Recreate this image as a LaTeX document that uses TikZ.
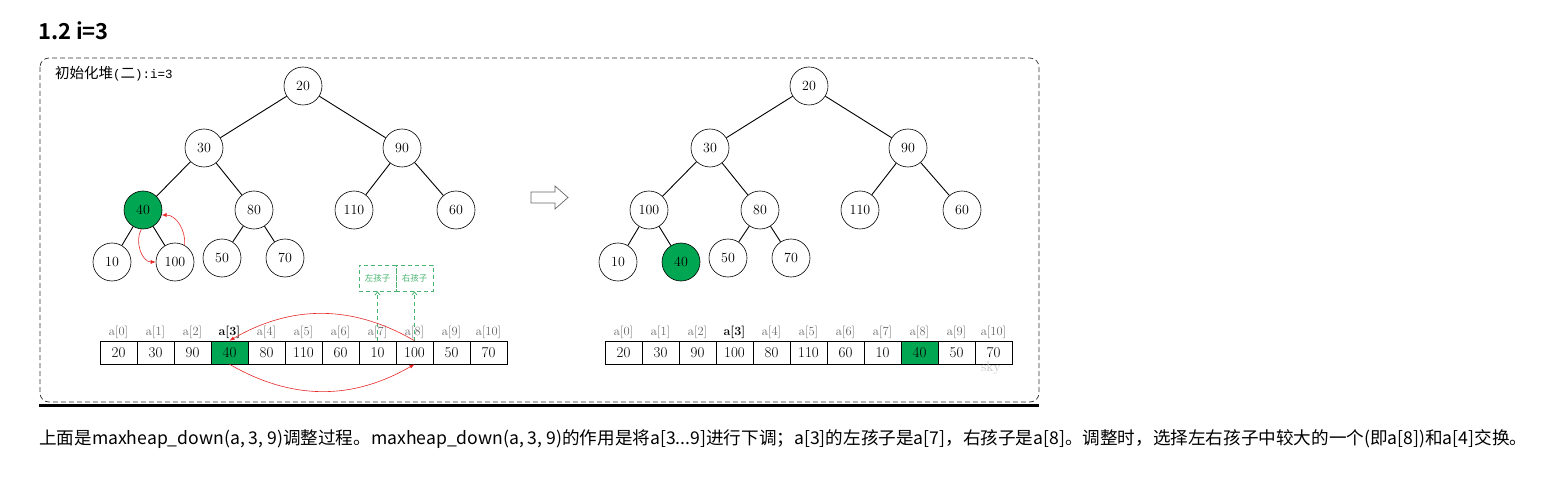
\documentclass[tikz,border=0pt]{standalone}
\usepackage{fontspec}
\newfontfamily\cjk{Noto Sans CJK SC}
\newfontfamily\cjkb{Noto Sans CJK SC Bold}
\newfontfamily\lmono{Liberation Mono}
\usetikzlibrary{arrows.meta}
\definecolor{hgreen}{RGB}{0,166,81}
\definecolor{dgreen}{RGB}{70,180,110}
\definecolor{hred}{RGB}{230,40,40}
\definecolor{boxgray}{RGB}{50,50,50}
\tikzset{
  hn/.style={circle,draw,line width=0.6pt,minimum size=38pt,inner sep=0pt,font=\fontsize{14}{14}\selectfont},
  gn/.style={hn,fill=hgreen},
  cell/.style={draw,line width=0.6pt,minimum width=37pt,minimum height=23pt,inner sep=0pt,font=\fontsize{15}{15}\selectfont},
  lab/.style={font=\fontsize{12.5}{12.5}\selectfont,text=black!60,inner sep=0pt},
  blab/.style={lab,text=black,font=\bfseries\fontsize{12.5}{12.5}\selectfont},
  tedge/.style={line width=0.9pt},
  redarr/.style={hred,line width=0.6pt,-{Latex[length=5pt,width=4pt]}},
  grarr/.style={dgreen,line width=0.8pt,dash pattern=on 4pt off 3pt,-{Straight Barb[length=3pt,width=5pt]}},
  gbox/.style={draw=dgreen,line width=0.8pt,dash pattern=on 4pt off 3pt,minimum width=37pt,minimum height=26pt,inner sep=0pt,font=\cjk\fontsize{8.5}{8.5}\selectfont,text=dgreen},
}
\begin{document}
\begin{tikzpicture}[x=1pt,y=-1pt]
\useasboundingbox (0,0) rectangle (1543,481);
% title
\node[anchor=west,inner sep=0pt,font=\cjkb\fontsize{22}{22}\selectfont] (title) at (38,31) {1.2 i=3};
% outer frame
\draw[boxgray,line width=0.7pt,dash pattern=on 5pt off 3pt,rounded corners=9pt] (40,58) rectangle (1039,402);
\draw[line width=3.5pt] (39,405.5) -- (1039,405.5);
\node[anchor=west,inner sep=0pt,font=\cjk\fontsize{14.5}{14.5}\selectfont] (cap) at (55,74) {初始化堆{\lmono\fontsize{12.5}{12.5}\selectfont(}二{\lmono\fontsize{12.5}{12.5}\selectfont):i=3}};

% left tree
\node[hn] (a20) at (303,86) {20};
\node[hn] (a30) at (204,148) {30};
\node[hn] (a90) at (402,148) {90};
\node[gn] (a40) at (143,210) {40};
\node[hn] (a80) at (254,210) {80};
\node[hn] (a110) at (354,210) {110};
\node[hn] (a60) at (456,210) {60};
\node[hn] (a10) at (112,262) {10};
\node[hn] (a100) at (175,262) {100};
\node[hn] (a50) at (222,258) {50};
\node[hn] (a70) at (285,258) {70};
\draw[tedge] (a20) -- (a30); \draw[tedge] (a20) -- (a90);
\draw[tedge] (a30) -- (a40); \draw[tedge] (a30) -- (a80);
\draw[tedge] (a90) -- (a110); \draw[tedge] (a90) -- (a60);
\draw[tedge] (a40) -- (a10); \draw[tedge] (a40) -- (a100);
\draw[tedge] (a80) -- (a50); \draw[tedge] (a80) -- (a70);
\draw[redarr] (a40.-95) to[out=-120,in=180] (a100.west);
\draw[redarr] (a100.60) to[out=85,in=0] (a40.-15);

% right tree
\node[hn] (b20) at (809,86) {20};
\node[hn] (b30) at (710,148) {30};
\node[hn] (b90) at (908,148) {90};
\node[hn] (b100) at (649,210) {100};
\node[hn] (b80) at (760,210) {80};
\node[hn] (b110) at (860,210) {110};
\node[hn] (b60) at (962,210) {60};
\node[hn] (b10) at (618,262) {10};
\node[gn] (b40) at (681,262) {40};
\node[hn] (b50) at (728,258) {50};
\node[hn] (b70) at (791,258) {70};
\draw[tedge] (b20) -- (b30); \draw[tedge] (b20) -- (b90);
\draw[tedge] (b30) -- (b100); \draw[tedge] (b30) -- (b80);
\draw[tedge] (b90) -- (b110); \draw[tedge] (b90) -- (b60);
\draw[tedge] (b100) -- (b10); \draw[tedge] (b100) -- (b40);
\draw[tedge] (b80) -- (b50); \draw[tedge] (b80) -- (b70);

% hollow arrow
\draw[black!60,line width=0.7pt,fill=white] (531,192) -- (555,192) -- (555,186) -- (568,197.5) -- (555,209) -- (555,203) -- (531,203) -- cycle;

% arrays
\foreach \v [count=\i from 0] in {20,30,90,40,80,110,60,10,100,50,70} {
  \ifnum\i=3
    \node[cell,fill=hgreen] (L\i) at (118.5+37*\i,352.5) {\v};
    \node[blab] (LL\i) at (118.5+37*\i,332) {a[\i]};
  \else
    \node[cell] (L\i) at (118.5+37*\i,352.5) {\v};
    \node[lab] (LL\i) at (118.5+37*\i,332) {a[\i]};
  \fi
}
\foreach \v [count=\i from 0] in {20,30,90,100,80,110,60,10,40,50,70} {
  \ifnum\i=8
    \node[cell,fill=hgreen] (R\i) at (623.5+37*\i,352.5) {\v};
  \else
    \node[cell] (R\i) at (623.5+37*\i,352.5) {\v};
  \fi
  \ifnum\i=3
    \node[blab] (RL\i) at (623.5+37*\i,332) {a[\i]};
  \else
    \node[lab] (RL\i) at (623.5+37*\i,332) {a[\i]};
  \fi
}
\node[text=black!22,inner sep=0pt,font=\fontsize{14}{14}\selectfont] (wm) at (991,368) {sky};

% green child boxes
\node[gbox] (lc) at (377.5,278) {左孩子};
\node[gbox] (rc) at (414.5,278) {右孩子};
\draw[grarr] (L7.north) -- (lc.south);
\draw[grarr] (L8.north) -- (rc.south);

% red swap arrows
\draw[redarr] (L8.north) to[out=150,in=30] (L3.north);
\draw[redarr] (L3.south) to[out=-30,in=-150] (L8.south);

% bottom text
\node[anchor=west,inner sep=0pt,font=\cjk\fontsize{17.6}{17.6}\selectfont] (desc) at (39,439) {上面是maxheap\_down(a, 3, 9)调整过程。maxheap\_down(a, 3, 9)的作用是将a[3...9]进行下调；a[3]的左孩子是a[7]，右孩子是a[8]。调整时，选择左右孩子中较大的一个(即a[8])和a[4]交换。};
\end{tikzpicture}
\end{document}
